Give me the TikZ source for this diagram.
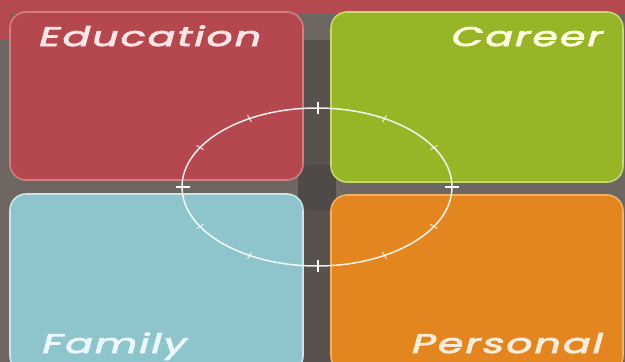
\documentclass[tikz,border=0pt]{standalone}
\usepackage{fontspec}
\newfontfamily\labfont[FakeSlant=0.18,LetterSpace=5]{Poppins}
\newcommand{\heavytxt}[1]{\special{pdf:literal 2 Tr 0.7 w}#1\special{pdf:literal 0 Tr}}
\definecolor{bggray}{HTML}{6E6661}
\definecolor{chgray}{HTML}{58514D}
\definecolor{centgray}{HTML}{4F4947}
\definecolor{topred}{HTML}{B44A50}
\definecolor{edred}{HTML}{B5474F}
\definecolor{edborder}{HTML}{D27D80}
\definecolor{cagreen}{HTML}{96B527}
\definecolor{caborder}{HTML}{C6D86E}
\definecolor{fablue}{HTML}{8EC4CC}
\definecolor{faborder}{HTML}{C9E6EA}
\definecolor{peorange}{HTML}{E4861F}
\definecolor{peborder}{HTML}{F2B162}
\tikzset{
  quad/.style={rounded corners=16pt, line width=1.6pt},
  lab/.style={font=\labfont\fontsize{27}{27}\selectfont, inner sep=0pt, xscale=1.52, transform shape},
  ring/.style={draw=white, opacity=0.9, line width=1.5pt},
  majtick/.style={draw=white, line width=2pt},
  mintick/.style={draw=white, opacity=0.8, line width=1pt}
}
\begin{document}
\begin{tikzpicture}[x=1pt,y=-1pt]
\useasboundingbox (0,0) rectangle (625,362);
\fill[bggray] (0,0) rectangle (625,362);
\fill[topred] (0,0) rectangle (625,14);
\fill[topred] (0,0) rectangle (12,40);
\fill[chgray] (300,40) rectangle (334,362);
\fill[centgray, rounded corners=10pt] (298,165) rectangle (336,210);
% quadrants
\draw[quad, fill=edred, draw=edborder] (10,12) rectangle (303,180);
\draw[quad, fill=cagreen, draw=caborder] (331,12) rectangle (623,182);
\draw[quad, fill=fablue, draw=faborder] (10,194) rectangle (303,372);
\draw[quad, fill=peorange, draw=peborder] (331,195) rectangle (623,372);
% labels
\node[lab, anchor=base west, text=white!90!red] (ed) at (37,46) {\heavytxt{Education}};
\node[lab, anchor=base east, text=white!88!yellow] (ca) at (601,46) {\heavytxt{Career}};
\node[lab, anchor=base west, text=white!92!cyan] (fa) at (40,353) {\heavytxt{Family}};
\node[lab, anchor=base east, text=white!85!orange] (pe) at (601,353) {\heavytxt{Personal}};
% ring
\coordinate (c) at (317,187);
\draw[ring] (c) ellipse [x radius=135, y radius=79];
\draw[majtick] (318,102) -- (318,114);
\draw[majtick] (318,260) -- (318,272);
\draw[majtick] (176,187) -- (190,187);
\draw[majtick] (445,187) -- (459,187);
\foreach \a in {30,60,120,150,210,240,300,330}{
  \draw[mintick] (c) ++(\a:131 and 75) -- ++(\a:8);
}
\end{tikzpicture}
\end{document}
